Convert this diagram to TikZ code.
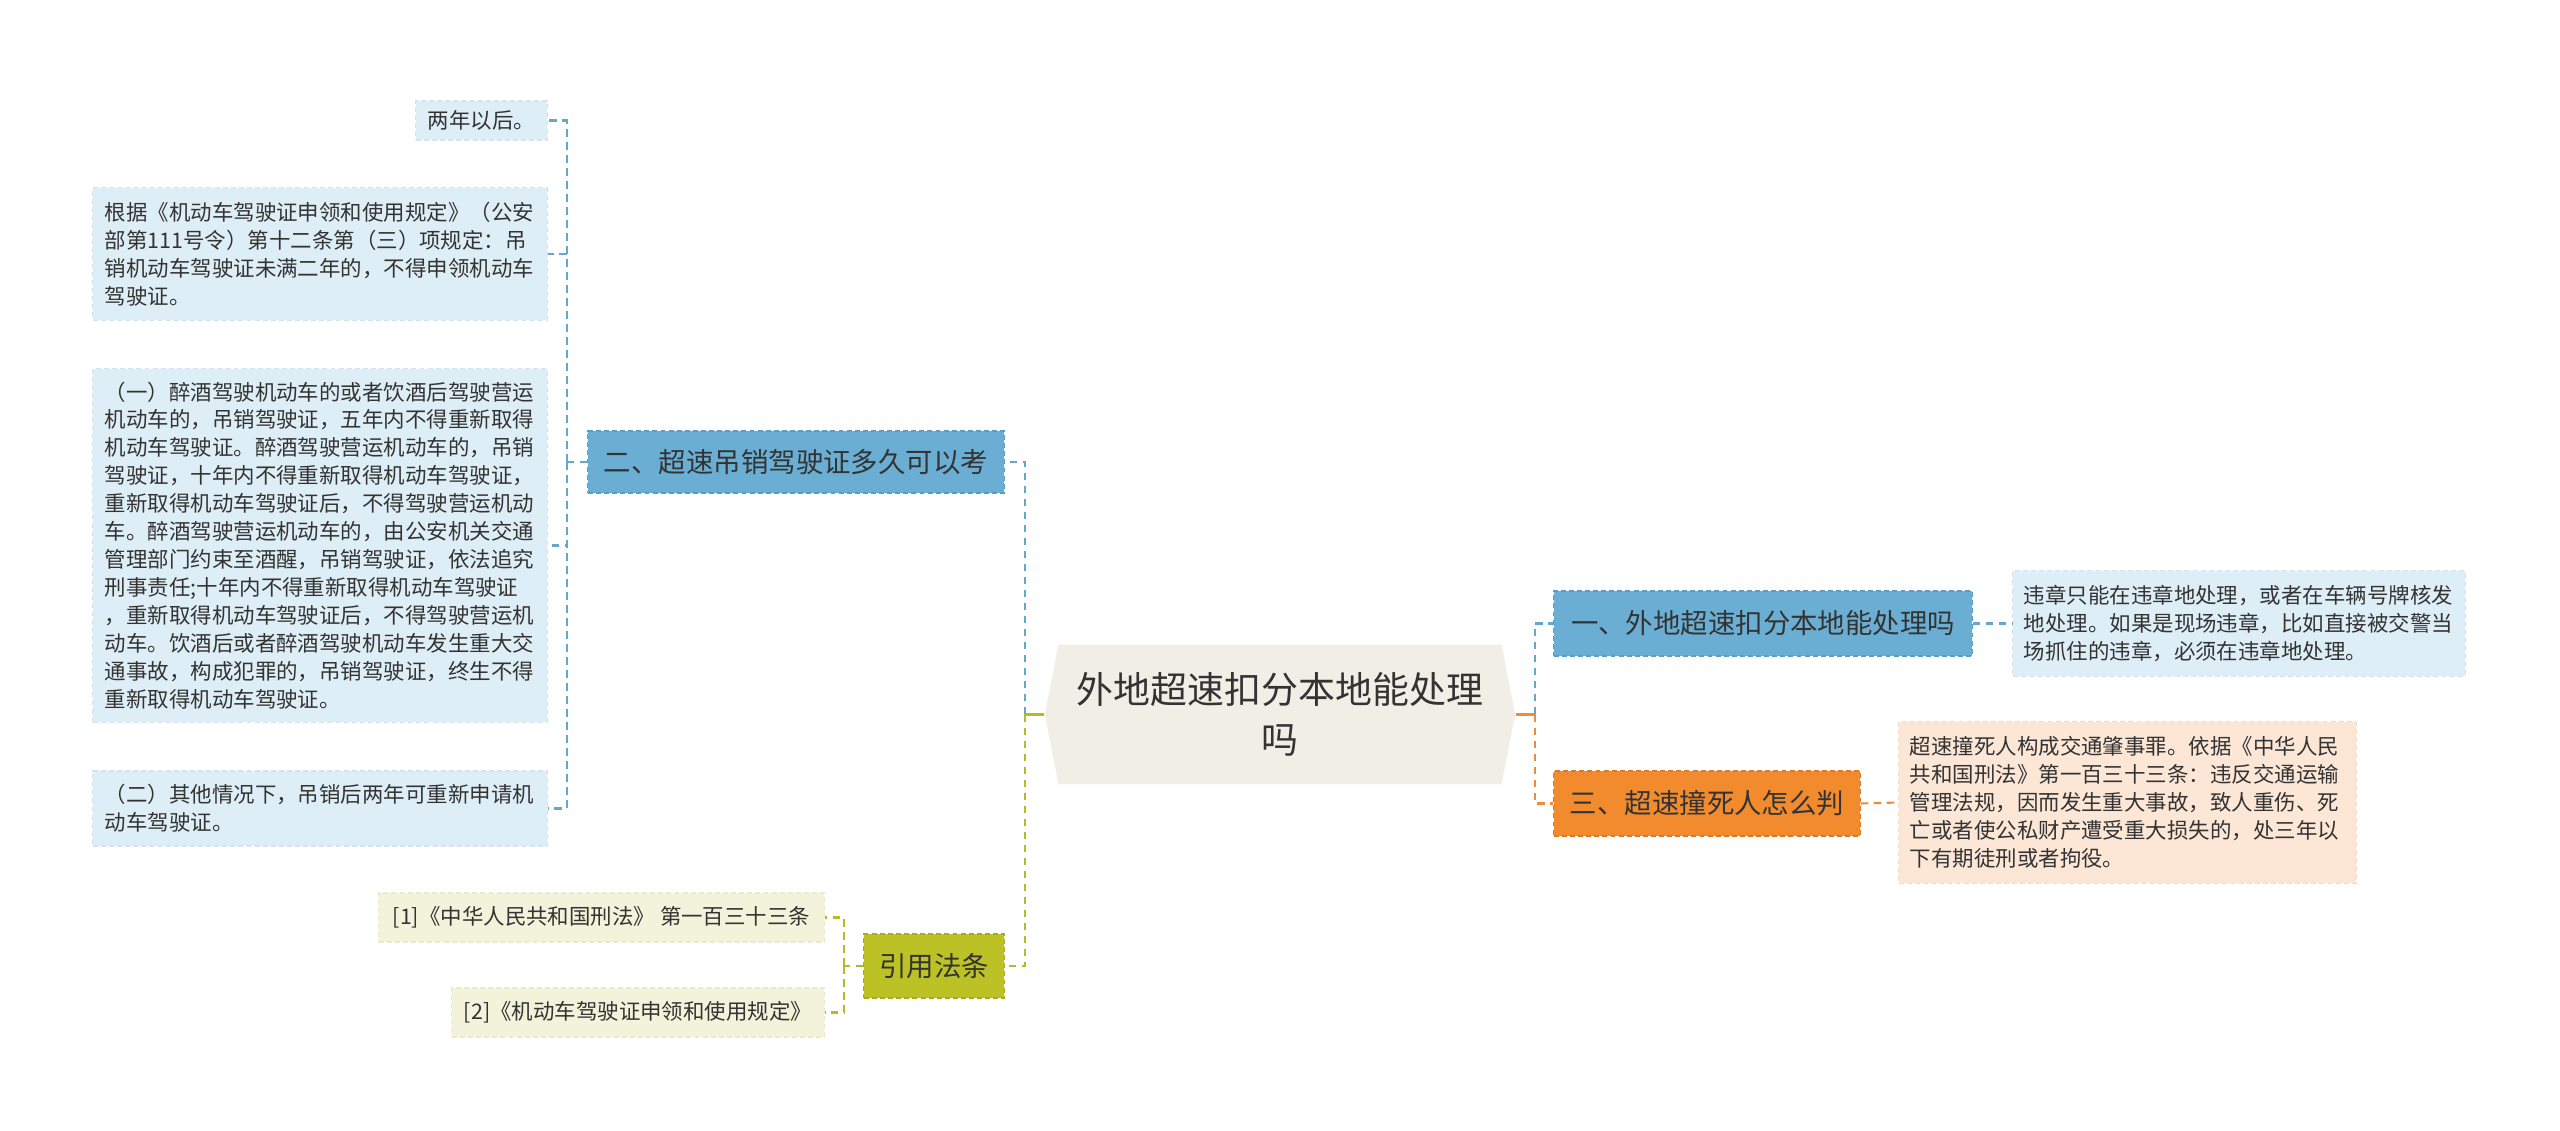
\documentclass[tikz,border=0pt]{standalone}
\usepackage{fontspec}
\setmainfont{Noto Sans CJK SC}
\usepackage{xcolor}
\definecolor{leafblue}{RGB}{222,238,247}
\definecolor{leafedge}{RGB}{208,228,241}
\definecolor{topicblue}{RGB}{106,175,211}
\definecolor{topicedge}{RGB}{88,158,198}
\definecolor{rootfill}{RGB}{239,239,230}
\definecolor{citeolive}{RGB}{188,194,38}
\definecolor{citeedge}{RGB}{168,174,24}
\definecolor{citeleaf}{RGB}{242,243,218}
\definecolor{citeleafedge}{RGB}{232,234,200}
\definecolor{topicorange}{RGB}{241,139,46}
\definecolor{orangeedge}{RGB}{222,122,36}
\definecolor{peach}{RGB}{252,231,214}
\definecolor{peachedge}{RGB}{245,218,196}
\definecolor{inkgray}{RGB}{51,51,51}
\definecolor{linkblue}{RGB}{100,168,206}
\definecolor{linkorange}{RGB}{236,140,60}
\definecolor{linkgreen}{RGB}{180,186,40}
\usetikzlibrary{shapes.symbols}

\tikzset{
  smalltext/.style={font=\fontsize{6.1}{7.95}\selectfont},
  leafbox/.style={rectangle, smalltext, fill=leafblue, draw=leafedge, dash pattern=on 1.4pt off 0.9pt,
    line width=0.3pt, text=inkgray, inner xsep=0.12cm, inner ysep=0pt, align=left},
  topicbox/.style={rectangle, font=\fontsize{7.8}{9.5}\selectfont, fill=topicblue, draw=topicedge,
    dash pattern=on 1.4pt off 0.9pt, line width=0.3pt, text=inkgray, inner sep=0pt},
  linkdash/.style={line width=0.6pt, dash pattern=on 2.2pt off 1.5pt},
}

\begin{document}
\begin{tikzpicture}[x=0.01cm, y=-0.01cm]
  \fill[white] (0,0) rectangle (2560,1131);
  \useasboundingbox (0,0) rectangle (2560,1131);

  % Root
  \node[signal, signal to=west and east, signal pointer angle=158, fill=rootfill,
    minimum width=4.70cm, minimum height=1.39cm, inner sep=0pt, align=center, text=inkgray,
    font=\fontsize{10.5}{14.2}\selectfont] (root) at (1280,714.5) {外地超速扣分本地能处理\\吗};

  % Left branch: topic two
  \node[topicbox, minimum width=4.16cm, minimum height=0.62cm] (topic2) at (796,462) {二、超速吊销驾驶证多久可以考};

  \node[leafbox, minimum width=1.31cm, minimum height=0.39cm, inner xsep=0pt] (twoyears) at (481.5,120.5) {两年以后。};
  \node[leafbox, text width=4.30cm, minimum height=1.32cm] (basis) at (320,254)
    {根据《机动车驾驶证申领和使用规定》（公安\\部第111号令）第十二条第（三）项规定：吊\\销机动车驾驶证未满二年的，不得申领机动车\\驾驶证。};
  \node[leafbox, text width=4.30cm, minimum height=3.53cm] (drunk) at (320,545.5)
    {（一）醉酒驾驶机动车的或者饮酒后驾驶营运\\机动车的，吊销驾驶证，五年内不得重新取得\\机动车驾驶证。醉酒驾驶营运机动车的，吊销\\驾驶证，十年内不得重新取得机动车驾驶证，\\重新取得机动车驾驶证后，不得驾驶营运机动\\车。醉酒驾驶营运机动车的，由公安机关交通\\管理部门约束至酒醒，吊销驾驶证，依法追究\\刑事责任;十年内不得重新取得机动车驾驶证\\，重新取得机动车驾驶证后，不得驾驶营运机\\动车。饮酒后或者醉酒驾驶机动车发生重大交\\通事故，构成犯罪的，吊销驾驶证，终生不得\\重新取得机动车驾驶证。};
  \node[leafbox, text width=4.30cm, minimum height=0.75cm] (other) at (320,808.5)
    {（二）其他情况下，吊销后两年可重新申请机\\动车驾驶证。};

  % Left branch: citations
  \node[topicbox, fill=citeolive, draw=citeedge, minimum width=1.40cm, minimum height=0.64cm] (cite) at (934,966) {引用法条};
  \node[leafbox, fill=citeleaf, draw=citeleafedge, minimum width=4.45cm, minimum height=0.49cm, inner xsep=0pt] (citeone) at (601.5,917.5)
    {[1]《中华人民共和国刑法》 第一百三十三条};
  \node[leafbox, fill=citeleaf, draw=citeleafedge, minimum width=3.72cm, minimum height=0.49cm, inner xsep=0pt] (citetwo) at (638,1012.5)
    {[2]《机动车驾驶证申领和使用规定》};

  % Right branch
  \node[topicbox, minimum width=4.18cm, minimum height=0.65cm] (topic1) at (1763,623.5) {一、外地超速扣分本地能处理吗};
  \node[leafbox, text width=4.30cm, inner xsep=0.11cm, minimum height=1.05cm] (answer1) at (2239,623.5)
    {违章只能在违章地处理，或者在车辆号牌核发\\地处理。如果是现场违章，比如直接被交警当\\场抓住的违章，必须在违章地处理。};
  \node[topicbox, fill=topicorange, draw=orangeedge, minimum width=3.06cm, minimum height=0.65cm] (topic3) at (1707,803.5) {三、超速撞死人怎么判};
  \node[leafbox, fill=peach, draw=peachedge, text width=4.35cm, inner xsep=0.11cm, minimum height=1.61cm] (answer3) at (2127.5,802.5)
    {超速撞死人构成交通肇事罪。依据《中华人民\\共和国刑法》第一百三十三条：违反交通运输\\管理法规，因而发生重大事故，致人重伤、死\\亡或者使公私财产遭受重大损失的，处三年以\\下有期徒刑或者拘役。};

  % Junctions
  \coordinate (leftjoin) at (1025,714.5);
  \coordinate (rightjoin) at (1535,714.5);
  \coordinate (leafjoin) at (567,462);
  \coordinate (citejoin) at (844,966);

  % Connectors
  \draw[line width=0.6pt, linkgreen] (root.west) -- (leftjoin);
  \draw[linkdash, linkblue] (leftjoin) |- (topic2.east);
  \draw[linkdash, linkgreen] (leftjoin) |- (cite.east);
  \draw[linkdash, linkblue] (topic2.west) -- (leafjoin);
  \foreach \leaf in {twoyears, basis, drunk, other}
    \draw[linkdash, linkblue] (leafjoin) |- (\leaf.east);
  \draw[linkdash, linkgreen] (cite.west) -- (citejoin);
  \foreach \leaf in {citeone, citetwo}
    \draw[linkdash, linkgreen] (citejoin) |- (\leaf.east);

  \draw[line width=0.6pt, linkorange] (root.east) -- (rightjoin);
  \draw[linkdash, linkblue] (rightjoin) |- (topic1.west);
  \draw[linkdash, linkorange] (rightjoin) |- (topic3.west);
  \draw[linkdash, linkblue] (topic1.east) -- (answer1.west);
  \draw[linkdash, linkorange] (topic3.east) -- (answer3.west);
\end{tikzpicture}
\end{document}
